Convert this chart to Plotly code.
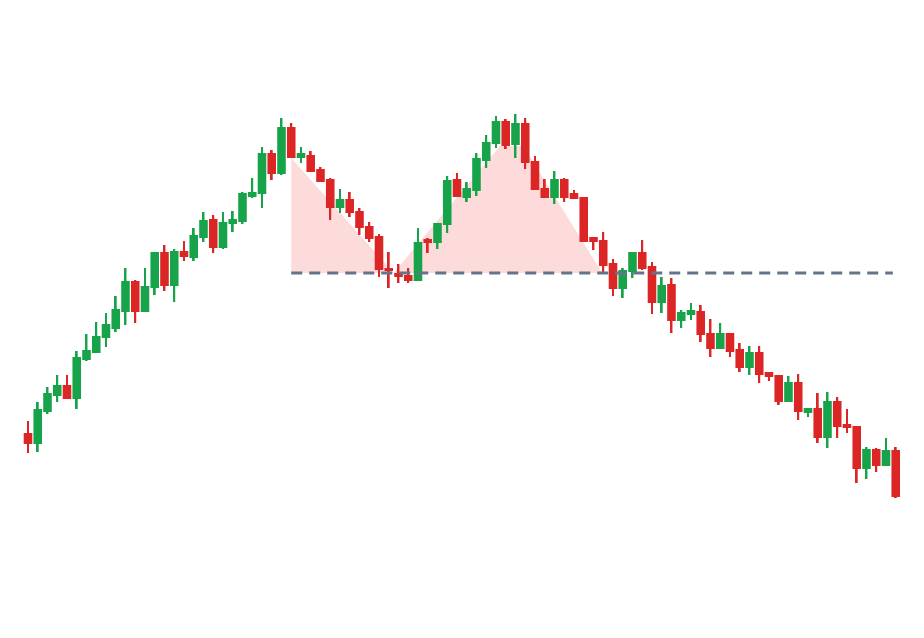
import plotly.graph_objects as go

# Candle data (index, open, high, low, close)
idx = list(range(90))
opens = [87, 76, 108, 124, 135, 121, 160, 167, 182, 191,
         208, 239, 208, 232, 268, 234, 269, 262, 282, 301,
         272, 296, 298, 323, 326, 367, 346, 393, 362, 365,
         351, 341, 312, 321, 309, 294, 284, 252, 247, 245,
         239, 281, 277, 295, 341, 322, 329, 359, 376, 399,
         375, 397, 359, 332, 322, 341, 327, 323, 283, 280,
         257, 231, 248, 268, 254, 217, 236, 199, 205, 209,
         187, 171, 187, 171, 152, 168, 148, 145, 118, 138,
         107, 112, 82, 119, 96, 94, 51, 71, 54, 70]
highs = [99, 118, 133, 145, 145, 169, 186, 198, 207, 224,
         252, 240, 252, 268, 275, 271, 279, 292, 308, 305,
         308, 309, 328, 342, 373, 370, 402, 397, 373, 369,
         353, 342, 331, 328, 312, 298, 286, 268, 256, 252,
         292, 282, 297, 344, 347, 338, 367, 385, 404, 401,
         406, 402, 364, 341, 349, 342, 330, 323, 283, 288,
         261, 252, 268, 280, 258, 243, 242, 210, 217, 215,
         201, 197, 187, 177, 174, 174, 148, 145, 144, 146,
         112, 127, 128, 123, 111, 94, 73, 72, 82, 73]
lows = [67, 68, 106, 118, 121, 111, 159, 167, 173, 188,
        195, 197, 208, 225, 229, 218, 259, 259, 278, 267,
        271, 288, 296, 322, 312, 340, 345, 362, 357, 348,
        338, 300, 307, 303, 285, 278, 243, 232, 237, 237,
        239, 267, 271, 287, 323, 318, 324, 352, 372, 371,
        362, 351, 330, 322, 316, 318, 321, 278, 270, 248,
        224, 222, 242, 250, 206, 207, 187, 192, 200, 178,
        163, 171, 163, 148, 145, 137, 139, 115, 118, 100,
        103, 77, 72, 82, 87, 37, 41, 48, 54, 22]
closes = [76, 111, 127, 135, 121, 163, 170, 184, 196, 211,
          239, 208, 234, 268, 234, 269, 263, 285, 300, 272,
          298, 301, 327, 328, 367, 346, 393, 362, 367, 348,
          338, 312, 321, 307, 292, 281, 250, 249, 243, 239,
          278, 277, 297, 340, 323, 332, 362, 378, 399, 374,
          397, 357, 330, 322, 341, 322, 321, 278, 278, 254,
          231, 250, 268, 251, 217, 235, 199, 208, 210, 185,
          171, 187, 168, 152, 168, 145, 143, 118, 138, 108,
          112, 82, 119, 93, 92, 51, 71, 54, 70, 23]

# Pattern overlay
neckline = 247
neck_start, neck_end = 27, 88.7
fill_x = [27, 27, 37.5, 48.4, 50.8, 58.9]
fill_y = [247, 362, 247, 374, 374, 247]

UP = "#16a34a"
DOWN = "#dc2626"

colors = [UP if c >= o else DOWN for o, c in zip(opens, closes)]
body_base = [min(o, c) for o, c in zip(opens, closes)]
body_h = [max(abs(c - o), 1.5) for o, c in zip(opens, closes)]
wick_h = [h - l for h, l in zip(highs, lows)]

fig = go.Figure()

fig.add_trace(go.Bar(
    x=idx, y=wick_h, base=lows, width=0.2,
    marker=dict(color=colors, line=dict(width=0)), hoverinfo="skip"))

fig.add_trace(go.Bar(
    x=idx, y=body_h, base=body_base, width=0.88,
    marker=dict(color=colors, line=dict(width=0)),
    customdata=list(zip(opens, highs, lows, closes)),
    hovertemplate="O %{customdata[0]}<br>H %{customdata[1]}<br>L %{customdata[2]}<br>C %{customdata[3]}<extra></extra>"))

path = "M " + " L ".join(f"{x},{y}" for x, y in zip(fill_x, fill_y)) + " Z"
fig.add_shape(type="path", xref="x", yref="y", path=path,
              fillcolor="rgba(248,113,113,0.25)", line=dict(width=0),
              layer="below")

fig.add_shape(type="line", xref="x", yref="y",
              x0=neck_start, x1=neck_end, y0=neckline, y1=neckline,
              line=dict(color="#64748b", width=3, dash="11px,7px"),
              layer="above")

fig.update_layout(
    width=924, height=638,
    margin=dict(l=0, r=0, t=0, b=0),
    paper_bgcolor="white", plot_bgcolor="white",
    showlegend=False, barmode="overlay",
    xaxis=dict(range=[-2.051, 92.72], visible=False, fixedrange=True),
    yaxis=dict(range=[-126, 512], visible=False, fixedrange=True),
)

fig.write_html("out.html")
